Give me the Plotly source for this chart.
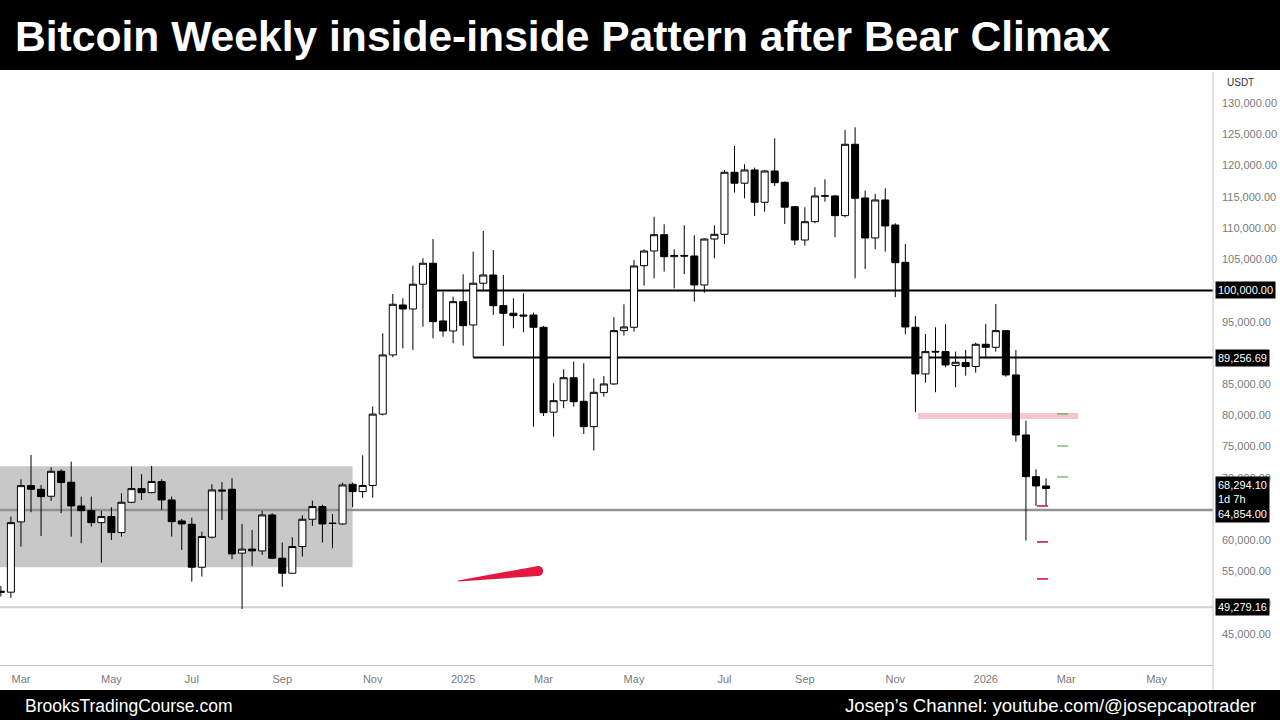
import pandas as pd
import plotly.graph_objects as go

# ---------------- data (weekly BTC/USDT candles) ----------------
first_week = "2024-02-19"
opens = [51850, 51700, 62950, 68750, 68170, 67050, 71050, 69300, 65500, 64750,
         62830, 63800, 61240, 66090, 68270, 67630, 69400, 66460, 63100, 62570,
         55690, 60500, 68060, 68170, 57950, 58590, 58300, 64060, 57130, 54730,
         59000, 63370, 65400, 62750, 62620, 68970, 67800,
         68780, 80200, 89670, 97670, 97030, 100990, 104350, 95110, 93510, 98200,
         94470, 101150, 102470, 97560, 96340, 96070, 96070, 94100, 80510, 82350,
         86030, 82250, 78190, 83640, 85030, 93560, 94100, 103960, 106310, 108920,
         105400, 105600, 105510, 100870, 108230, 108980, 118910, 117160, 119280, 114110,
         119120, 117310, 113400, 108070, 111000, 115150, 115120, 111970, 123390, 114800,
         108400, 114480, 110470, 104500, 94100, 86630, 90250, 90200, 87980, 88450,
         87810, 91380, 90900, 93560, 86470, 76860, 70190, 68700]
highs = [52700, 63800, 69770, 73660, 68860, 71700, 71370, 72590, 66990, 67000,
         64700, 65290, 67530, 71810, 70580, 71900, 69770, 67000, 63420, 63630,
         61390, 68970, 69310, 69920, 62620, 61660, 64700, 64330, 59640, 60490,
         64000, 66350, 65700, 64220, 69230, 69230, 73600,
         81420, 93140, 99430, 98740, 103960, 105150, 108230, 99800, 99000, 102580,
         106200, 109510, 106470, 102470, 98740, 99540, 96450, 94310, 85140, 87380,
         88600, 88340, 85940, 86310, 95710, 97780, 104870, 106580, 111800, 110590,
         106580, 110430, 108830, 108350, 110430, 119280, 123120, 120190, 119660, 119300,
         124350, 117420, 113510, 113300, 116520, 117790, 115280, 125680, 126110, 115970,
         115440, 116350, 110750, 107430, 95910, 93030, 94100, 94580, 90200, 90470,
         91640, 94630, 97830, 93670, 90470, 79150, 71370, 69930]
lows = [51000, 50780, 58990, 64500, 60700, 66300, 64350, 60600, 59530, 62190,
        56420, 60060, 60600, 65950, 66460, 67530, 64860, 60600, 58460, 53380,
        54200, 60300, 63260, 56970, 49000, 55900, 57660, 57000, 52580, 54700,
        57400, 62300, 59640, 58730, 62460, 65300, 66800,
        66840, 80000, 89300, 90740, 90470, 94200, 92340, 92600, 91540, 91160,
        89256.69, 99800, 96070, 91110, 93940, 93300, 78190, 79900, 76590, 81150,
        81400, 77020, 74350, 83010, 84870, 92770, 93400, 100760, 101940, 103000,
        100340, 102630, 98200, 99640, 105150, 107430, 115660, 114750, 111910, 112600,
        116730, 110640, 107270, 107160, 110750, 114200, 108510, 111700, 101940, 103430,
        106580, 106200, 98920, 92980, 80500, 85240, 83700, 87700, 84510, 86350,
        86840, 89140, 90200, 86200, 75790, 59950, 65500, 65500]
closes = [51700, 62830, 68750, 68170, 66990, 71050, 69250, 65500, 64750, 62830,
          63800, 61240, 66090, 68270, 67630, 69410, 66460, 62990, 62620, 55690,
          60600, 68060, 67900, 57820, 58590, 58310, 64060, 57130, 54730, 59000,
          63370, 65400, 62620, 62700, 68860, 67800, 68780,
          80200, 89670, 97780, 97030, 100990, 104350, 95000, 93510, 98200, 94360,
          101150, 102470, 97560, 96340, 95970, 95910, 94100, 80430, 82350, 86030,
          82190, 78190, 83690, 85030, 93560, 94150, 103910, 106310, 108920, 105400,
          105600, 105500, 100870, 108230, 108980, 118910, 117160, 119280, 114110, 119120,
          117250, 113320, 108070, 111000, 115120, 115100, 111970, 123390, 114750, 108400,
          114480, 110320, 104440, 94150, 86630, 90200, 90150, 88070, 88500, 87810,
          91380, 90900, 93560, 86470, 76860, 70190, 68700, 68294.10]

# key levels / annotations
level_100k = 100000.00
level_jan_low = 89256.69
level_gray = 64854.00
level_aug_low = 49279.16
last_close = closes[-1]
countdown = "1d 7h"
range_box = [55690, 71850]
pink_zone = [79410, 80370]
green_targets = [80225, 75100, 70140]
red_targets = [65500, 59740, 53820]

# price-scale ticks (those fully covered by the black price labels are left out)
price_ticks = [45000, 50000, 55000, 60000, 70000, 75000, 80000, 85000, 95000,
               105000, 110000, 115000, 120000, 125000, 130000]

month_ticks = ["2024-03-04", "2024-05-06", "2024-07-01", "2024-09-02", "2024-11-04",
               "2025-01-06", "2025-03-03", "2025-05-05", "2025-07-07", "2025-09-01",
               "2025-11-03", "2026-01-05", "2026-03-02", "2026-05-04"]
month_text = ["Mar", "May", "Jul", "Sep", "Nov", "2025", "Mar", "May", "Jul", "Sep",
              "Nov", "2026", "Mar", "May"]

title_text = "Bitcoin Weekly inside-inside Pattern after Bear Climax"
footer_left = "BrooksTradingCourse.com"
footer_right = "Josep\u2019s Channel: youtube.com/@josepcapotrader"

# ---------------- layout helpers ----------------
W, H = 1280, 720
PL, PR, PT, PB = 0, 1213, 72, 665   # plot area in pixels
base = pd.Timestamp("2024-11-04")
PX_PER_WEEK = 10.05
BASE_PX = 372.7


def wk(k):
    return base + pd.Timedelta(days=7 * k)


x_range = [wk((PL - BASE_PX) / PX_PER_WEEK), wk((PR - BASE_PX) / PX_PER_WEEK)]
y_range = [40040, 134962]


def px(x):
    return (x - PL) / (PR - PL)


def py(y):
    return (PB - y) / (PB - PT)


dates = pd.date_range(first_week, periods=len(opens), freq="7D")

fig = go.Figure()
fig.add_trace(go.Candlestick(
    x=dates, open=opens, high=highs, low=lows, close=closes,
    increasing=dict(line=dict(color="#000000", width=1), fillcolor="#ffffff"),
    decreasing=dict(line=dict(color="#000000", width=1), fillcolor="#000000"),
    whiskerwidth=0, hoverinfo="skip", showlegend=False,
))

shapes = []
# gray trading range
shapes.append(dict(type="rect", xref="x", yref="y", x0=x_range[0], x1=wk(-2),
                   y0=range_box[0], y1=range_box[1], fillcolor="#c8c8c8",
                   line=dict(width=0), layer="below"))
# pink zone
shapes.append(dict(type="rect", xref="x", yref="y", x0=wk(54.25), x1=wk(70.2),
                   y0=pink_zone[0], y1=pink_zone[1], fillcolor="#f6c4cb",
                   line=dict(width=0), layer="below"))
# horizontal levels
shapes.append(dict(type="line", xref="x", yref="y", x0=wk(6.4), x1=x_range[1],
                   y0=level_100k, y1=level_100k, line=dict(color="#000000", width=2),
                   layer="below"))
shapes.append(dict(type="line", xref="x", yref="y", x0=wk(10), x1=x_range[1],
                   y0=level_jan_low, y1=level_jan_low, line=dict(color="#000000", width=2),
                   layer="below"))
shapes.append(dict(type="line", xref="x", yref="y", x0=x_range[0], x1=x_range[1],
                   y0=level_gray, y1=level_gray, line=dict(color="#929292", width=2.5),
                   layer="below"))
shapes.append(dict(type="line", xref="x", yref="y", x0=x_range[0], x1=x_range[1],
                   y0=level_aug_low, y1=level_aug_low, line=dict(color="#d2d2d2", width=2),
                   layer="below"))
# target dashes
for lv in green_targets:
    shapes.append(dict(type="line", xref="x", yref="y", x0=wk(68.1), x1=wk(69.2),
                       y0=lv, y1=lv, line=dict(color="#58b05c", width=1.2)))
for lv in red_targets:
    shapes.append(dict(type="line", xref="x", yref="y", x0=wk(66.1), x1=wk(67.2),
                       y0=lv, y1=lv, line=dict(color="#d4184a", width=1.6)))

# red brush stroke
def pt(x, y):
    return f"{px(x):.5f},{py(y):.5f}"

stroke = ("M " + pt(458, 580.5) + " L " + pt(538, 566) +
          " C " + pt(544.8, 566) + " " + pt(544.8, 576) + " " + pt(538, 576) +
          " L " + pt(458, 581.5) + " Z")
shapes.append(dict(type="path", xref="paper", yref="paper", path=stroke,
                   fillcolor="#e5173f", line=dict(width=0)))

# header / footer bars
shapes.append(dict(type="rect", xref="paper", yref="paper", x0=px(0), x1=px(W),
                   y0=py(70), y1=py(0), fillcolor="#000000", line=dict(width=0)))
shapes.append(dict(type="rect", xref="paper", yref="paper", x0=px(0), x1=px(W),
                   y0=py(H), y1=py(690), fillcolor="#000000", line=dict(width=0)))
# price-scale separator
shapes.append(dict(type="line", xref="paper", yref="paper", x0=1, x1=1,
                   y0=py(690), y1=py(PT), line=dict(color="#c4c4c4", width=1)))

annotations = []
annotations.append(dict(xref="paper", yref="paper", x=px(13), y=py(36), xanchor="left",
                        yanchor="middle", text=title_text, showarrow=False,
                        font=dict(size=42.6, color="#ffffff", family="Liberation Sans",
                                  weight="bold")))
annotations.append(dict(xref="paper", yref="paper", x=px(23), y=py(706), xanchor="left",
                        yanchor="middle", text=footer_left, showarrow=False,
                        font=dict(size=17.5, color="#ffffff", family="Liberation Sans")))
annotations.append(dict(xref="paper", yref="paper", x=px(1258), y=py(706), xanchor="right",
                        yanchor="middle", text=footer_right, showarrow=False,
                        font=dict(size=18.6, color="#ffffff", family="Liberation Sans")))
annotations.append(dict(xref="paper", yref="paper", x=px(1225), y=py(82), xanchor="left",
                        yanchor="middle", text="USDT", showarrow=False,
                        font=dict(size=10, color="#333333", family="Liberation Sans")))

label_font = dict(size=11, color="#ffffff", family="Liberation Sans")
for lv in [level_100k, level_jan_low, level_aug_low]:
    annotations.append(dict(xref="paper", yref="y", x=1, xshift=2, y=lv, xanchor="left",
                            yanchor="middle", text=f"{lv:,.2f}", showarrow=False,
                            bgcolor="#000000", borderpad=2, font=label_font))
annotations.append(dict(xref="paper", yref="y", x=1, xshift=2,
                        y=(last_close + level_gray) / 2, xanchor="left", yanchor="middle",
                        align="left",
                        text=f"{last_close:,.2f}<br>{countdown}<br>{level_gray:,.2f}",
                        showarrow=False, bgcolor="#000000", borderpad=2, font=label_font))

fig.update_layout(
    width=W, height=H,
    margin=dict(l=PL, r=W - PR, t=PT, b=H - PB, pad=0),
    paper_bgcolor="#ffffff", plot_bgcolor="#ffffff",
    font=dict(family="Liberation Sans, Arial, sans-serif"),
    boxgap=0.3, boxgroupgap=0,
    shapes=shapes, annotations=annotations, showlegend=False,
    xaxis=dict(range=x_range, rangeslider=dict(visible=False), showgrid=False,
               zeroline=False, showline=True, linecolor="#c4c4c4", linewidth=1,
               tickmode="array", tickvals=month_ticks, ticktext=month_text,
               ticks="", ticklabelstandoff=4, tickfont=dict(size=11, color="#7a7a7a")),
    yaxis=dict(range=y_range, side="right", showgrid=False, zeroline=False,
               showline=False, tickmode="array",
               tickvals=price_ticks, tickformat=",.2f",
               ticks="", ticklabelstandoff=8,
               tickfont=dict(size=11, color="#7a7a7a")),
)

fig.write_html("out.html")
